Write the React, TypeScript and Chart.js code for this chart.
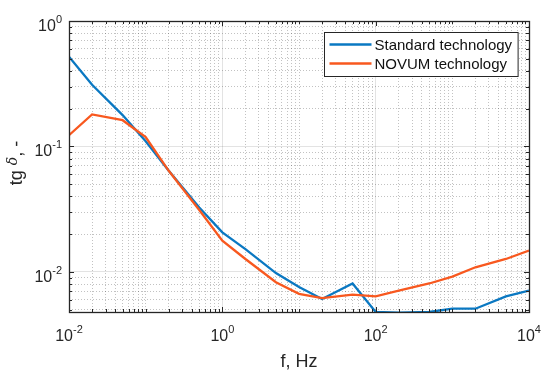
import React, { useEffect, useRef } from 'react';
import { Chart, registerables } from 'chart.js';

Chart.register(...registerables);

// ---- data ----
const frequencies = [0.01, 0.02, 0.05, 0.1, 0.2, 0.5, 1, 2, 5, 10, 20, 50, 100, 200, 500, 1000, 2000, 5000, 10000];
const standardTech = [0.52, 0.31, 0.178, 0.11, 0.064, 0.0326, 0.0207, 0.0152, 0.0098, 0.0076, 0.0061, 0.0081, 0.0048, 0.00475, 0.0048, 0.0051, 0.0051, 0.0064, 0.0071];
const novumTech = [0.123, 0.18, 0.162, 0.119, 0.064, 0.0312, 0.0178, 0.0127, 0.0083, 0.0067, 0.0062, 0.0066, 0.0064, 0.0071, 0.0081, 0.0092, 0.0109, 0.0127, 0.0148];
const seriesLabels = ['Standard technology', 'NOVUM technology'];
const xLabelExponents = [-2, 0, 2, 4];
const yLabelExponents = [-2, -1, 0];
const xRange = [0.01, 10000];
const yRange = [0.0048, 1];
const xTitle = 'f, Hz';
const yTitleParts = ['tg ', 'δ', ', -'];

const BLUE = '#0a78c2';
const ORANGE = '#f8581f';
const AXIS = '#262626';
const FAM = '"Liberation Sans", Arial, Helvetica, sans-serif';

function logTicks(min: number, max: number): number[] {
  const out: number[] = [];
  for (let d = Math.floor(Math.log10(min)); d <= Math.ceil(Math.log10(max)); d++) {
    for (let k = 1; k <= 9; k++) {
      const v = parseFloat((k * Math.pow(10, d)).toPrecision(10));
      if (v >= min * (1 - 1e-9) && v <= max * (1 + 1e-9)) out.push(v);
    }
  }
  return out;
}
const xTickValues = logTicks(xRange[0], xRange[1]);
const yTickValues = logTicks(yRange[0], yRange[1]);

const isMajorVal = (v: number, exps: number[]) =>
  exps.some((e) => Math.abs(Math.log10(v) - e) < 1e-9);

const gridColor = (exps: number[]) => (ctx: any) =>
  ctx.tick && isMajorVal(ctx.tick.value, exps) ? 'rgba(0,0,0,0.11)' : 'rgba(0,0,0,0.24)';
const gridDash = (exps: number[]) => (ctx: any) =>
  ctx.tick && !isMajorVal(ctx.tick.value, exps) ? [1, 2] : [];

function drawPow(ctx: CanvasRenderingContext2D, exp: number, x: number, baseline: number, align: 'center' | 'right') {
  const big = 16;
  const small = 11;
  ctx.font = `${big}px ${FAM}`;
  const wb = ctx.measureText('10').width;
  const es = String(exp);
  ctx.font = `${small}px ${FAM}`;
  const we = ctx.measureText(es).width;
  const total = wb + we;
  const sx = align === 'center' ? x - total / 2 : x - total;
  ctx.textAlign = 'left';
  ctx.textBaseline = 'alphabetic';
  ctx.font = `${big}px ${FAM}`;
  ctx.fillText('10', sx, baseline);
  ctx.font = `${small}px ${FAM}`;
  ctx.fillText(es, sx + wb, baseline - 8);
}

const matlabPlugin = {
  id: 'matlabDecor',
  afterDraw(chart: any) {
    const { ctx, chartArea: a, scales } = chart;
    const xs = scales.x;
    const ys = scales.y;
    ctx.save();

    // inward tick marks on all four sides
    ctx.strokeStyle = AXIS;
    ctx.lineWidth = 1;
    ctx.beginPath();
    xTickValues.forEach((v) => {
      const px = Math.round(xs.getPixelForValue(v)) + 0.5;
      const len = isMajorVal(v, xLabelExponents) ? 5 : 3;
      ctx.moveTo(px, a.bottom);
      ctx.lineTo(px, a.bottom - len);
      ctx.moveTo(px, a.top);
      ctx.lineTo(px, a.top + len);
    });
    yTickValues.forEach((v) => {
      const py = Math.round(ys.getPixelForValue(v)) + 0.5;
      const len = isMajorVal(v, yLabelExponents) ? 5 : 3;
      ctx.moveTo(a.left, py);
      ctx.lineTo(a.left + len, py);
      ctx.moveTo(a.right, py);
      ctx.lineTo(a.right - len, py);
    });
    ctx.stroke();

    // box
    ctx.lineWidth = 1.3;
    ctx.strokeRect(Math.round(a.left) + 0.5, Math.round(a.top) + 0.5, Math.round(a.right - a.left), Math.round(a.bottom - a.top));

    // tick labels
    ctx.fillStyle = AXIS;
    xLabelExponents.forEach((e) => {
      const px = xs.getPixelForValue(Math.pow(10, e));
      drawPow(ctx, e, px, a.bottom + 29, 'center');
    });
    yLabelExponents.forEach((e) => {
      const py = ys.getPixelForValue(Math.pow(10, e));
      drawPow(ctx, e, a.left - 7, py + 10, 'right');
    });

    // axis titles
    ctx.font = `18px ${FAM}`;
    ctx.textAlign = 'center';
    ctx.textBaseline = 'alphabetic';
    ctx.fillText(xTitle, (a.left + a.right) / 2, a.bottom + 55);

    ctx.save();
    ctx.translate(22, 163);
    ctx.rotate(-Math.PI / 2);
    const fonts = [`18px ${FAM}`, `italic 14px "DejaVu Serif", serif`, `18px ${FAM}`];
    const offs = [0, -5, 0];
    let tw = 0;
    const widths = yTitleParts.map((p, i) => {
      ctx.font = fonts[i];
      const w = ctx.measureText(p).width;
      tw += w;
      return w;
    });
    let cx = -tw / 2;
    ctx.textAlign = 'left';
    yTitleParts.forEach((p, i) => {
      ctx.font = fonts[i];
      ctx.fillText(p, cx, offs[i]);
      cx += widths[i];
    });
    ctx.restore();

    // legend
    ctx.font = `15px ${FAM}`;
    const textW = Math.max(...seriesLabels.map((l) => ctx.measureText(l).width));
    const bw = 50 + textW + 6;
    const bh = 44;
    const bx = Math.round(a.right - 11 - bw) + 0.5;
    const by = Math.round(a.top + 11) + 0.5;
    ctx.fillStyle = '#ffffff';
    ctx.fillRect(bx, by, bw, bh);
    ctx.strokeStyle = AXIS;
    ctx.lineWidth = 1;
    ctx.strokeRect(bx, by, bw, bh);
    const colors = [BLUE, ORANGE];
    seriesLabels.forEach((l, i) => {
      const ry = by + 12 + i * 19;
      ctx.strokeStyle = colors[i];
      ctx.lineWidth = 2.3;
      ctx.beginPath();
      ctx.moveTo(bx + 5, ry);
      ctx.lineTo(bx + 47, ry);
      ctx.stroke();
      ctx.fillStyle = '#111111';
      ctx.textAlign = 'left';
      ctx.textBaseline = 'middle';
      ctx.fillText(l, bx + 50, ry + 1);
    });

    ctx.restore();
  },
};

export default function App() {
  const ref = useRef<HTMLCanvasElement | null>(null);
  useEffect(() => {
    document.body.style.margin = '0';
    if (!ref.current) return;
    const chart = new Chart(ref.current, {
      type: 'line',
      data: {
        datasets: [
          {
            label: seriesLabels[0],
            data: frequencies.map((f, i) => ({ x: f, y: standardTech[i] })),
            borderColor: BLUE,
            backgroundColor: BLUE,
            borderWidth: 2.3,
            pointRadius: 0,
            tension: 0,
            fill: false,
            order: 1,
          },
          {
            label: seriesLabels[1],
            data: frequencies.map((f, i) => ({ x: f, y: novumTech[i] })),
            borderColor: ORANGE,
            backgroundColor: ORANGE,
            borderWidth: 2.3,
            pointRadius: 0,
            tension: 0,
            fill: false,
            order: 0,
          },
        ],
      },
      options: {
        responsive: false,
        animation: false,
        devicePixelRatio: 1,
        layout: { padding: { left: 69, right: 21, top: 21, bottom: 65 } },
        plugins: { legend: { display: false }, tooltip: { enabled: false } },
        scales: {
          x: {
            type: 'logarithmic',
            min: xRange[0],
            max: xRange[1],
            afterBuildTicks: (s: any) => {
              s.ticks = xTickValues.map((v) => ({ value: v }));
            },
            ticks: { display: false },
            grid: { drawTicks: false, color: gridColor(xLabelExponents), lineWidth: 1 },
            border: { display: false, dash: gridDash(xLabelExponents) },
          },
          y: {
            type: 'logarithmic',
            min: yRange[0],
            max: yRange[1],
            afterBuildTicks: (s: any) => {
              s.ticks = yTickValues.map((v) => ({ value: v }));
            },
            ticks: { display: false },
            grid: { drawTicks: false, color: gridColor(yLabelExponents), lineWidth: 1 },
            border: { display: false, dash: gridDash(yLabelExponents) },
          },
        },
      } as any,
      plugins: [matlabPlugin],
    });
    return () => chart.destroy();
  }, []);
  return <canvas ref={ref} width={550} height={377} />;
}
